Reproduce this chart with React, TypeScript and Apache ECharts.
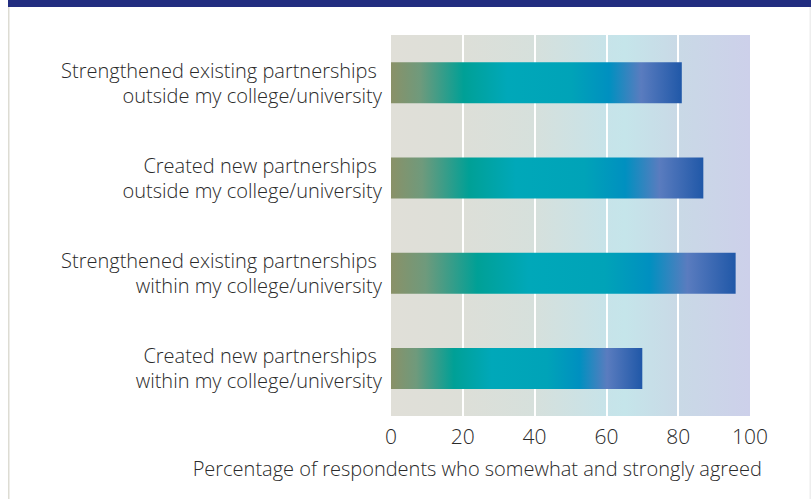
import React, { useEffect, useRef } from "react";
import * as echarts from "echarts";

const categories = [
  "Strengthened existing partnerships \noutside my college/university",
  "Created new partnerships \noutside my college/university",
  "Strengthened existing partnerships \nwithin my college/university",
  "Created new partnerships \nwithin my college/university",
];
const values = [81, 87, 96, 70];
const xTicks = { min: 0, max: 100, interval: 20 };
const axisTitle = "Percentage of respondents who somewhat and strongly agreed";

const FONT = "'Open Sans', 'Noto Sans', sans-serif";

export default function App() {
  const ref = useRef<HTMLDivElement>(null);
  useEffect(() => {
    document.body.style.margin = "0";
    if (!ref.current) return;
    const chart = echarts.init(ref.current, null, { renderer: "svg" });
    const barGrad = new echarts.graphic.LinearGradient(0, 0, 1, 0, [
      { offset: 0, color: "#8a9168" },
      { offset: 0.1, color: "#6f9a7c" },
      { offset: 0.25, color: "#00a096" },
      { offset: 0.4, color: "#00a8b9" },
      { offset: 0.62, color: "#00a3b8" },
      { offset: 0.75, color: "#0090c0" },
      { offset: 0.86, color: "#5a7cbf" },
      { offset: 1, color: "#2058a8" },
    ]);
    const bgGrad = new echarts.graphic.LinearGradient(0, 0, 1, 0, [
      { offset: 0, color: "#e0dfd8" },
      { offset: 0.2, color: "#dddfd8" },
      { offset: 0.4, color: "#d6e0dc" },
      { offset: 0.6, color: "#c7e3e9" },
      { offset: 0.65, color: "#c5e5ea" },
      { offset: 0.8, color: "#c9d9e6" },
      { offset: 1, color: "#cdd0ea" },
    ]);
    chart.setOption({
      animation: false,
      textStyle: { fontFamily: FONT },
      grid: {
        left: 391,
        right: 61,
        top: 35,
        bottom: 83,
        show: true,
        backgroundColor: bgGrad,
        borderWidth: 0,
      },
      xAxis: {
        type: "value",
        min: xTicks.min,
        max: xTicks.max,
        interval: xTicks.interval,
        axisLine: { show: false },
        axisTick: { show: false },
        axisLabel: { fontSize: 21, color: "#2a2a2a", margin: 9, fontFamily: FONT, fontWeight: 300 },
        splitLine: {
          show: true,
          showMinLine: false,
          showMaxLine: false,
          lineStyle: { color: "#ffffff", width: 2 },
        },
      },
      yAxis: {
        type: "category",
        data: categories,
        inverse: true,
        axisLine: { show: false },
        axisTick: { show: false },
        axisLabel: {
          fontSize: 20,
          lineHeight: 25,
          color: "#2a2a2a",
          margin: 9,
          align: "right",
          fontFamily: FONT,
          fontWeight: 300,
        },
      },
      series: [
        {
          type: "bar",
          data: values,
          barWidth: 41,
          itemStyle: { color: barGrad },
        },
      ],
      graphic: [
        {
          type: "rect",
          shape: { x: 8, y: 0, width: 803, height: 7 },
          style: { fill: "#222d80" },
          silent: true,
        },
        {
          type: "rect",
          shape: { x: 8, y: 7, width: 1.5, height: 492 },
          style: { fill: "#dddcd3" },
          silent: true,
        },
        {
          type: "rect",
          shape: { x: 809.5, y: 7, width: 1.5, height: 492 },
          style: { fill: "#eeeeee" },
          silent: true,
        },
        {
          type: "text",
          right: 49,
          top: 458,
          style: {
            text: axisTitle,
            fontSize: 20,
            fill: "#2a2a2a",
            fontFamily: FONT,
            fontWeight: 300,
          },
        },
      ],
    });
    return () => chart.dispose();
  }, []);
  return <div ref={ref} style={{ width: 811, height: 499 }} />;
}
